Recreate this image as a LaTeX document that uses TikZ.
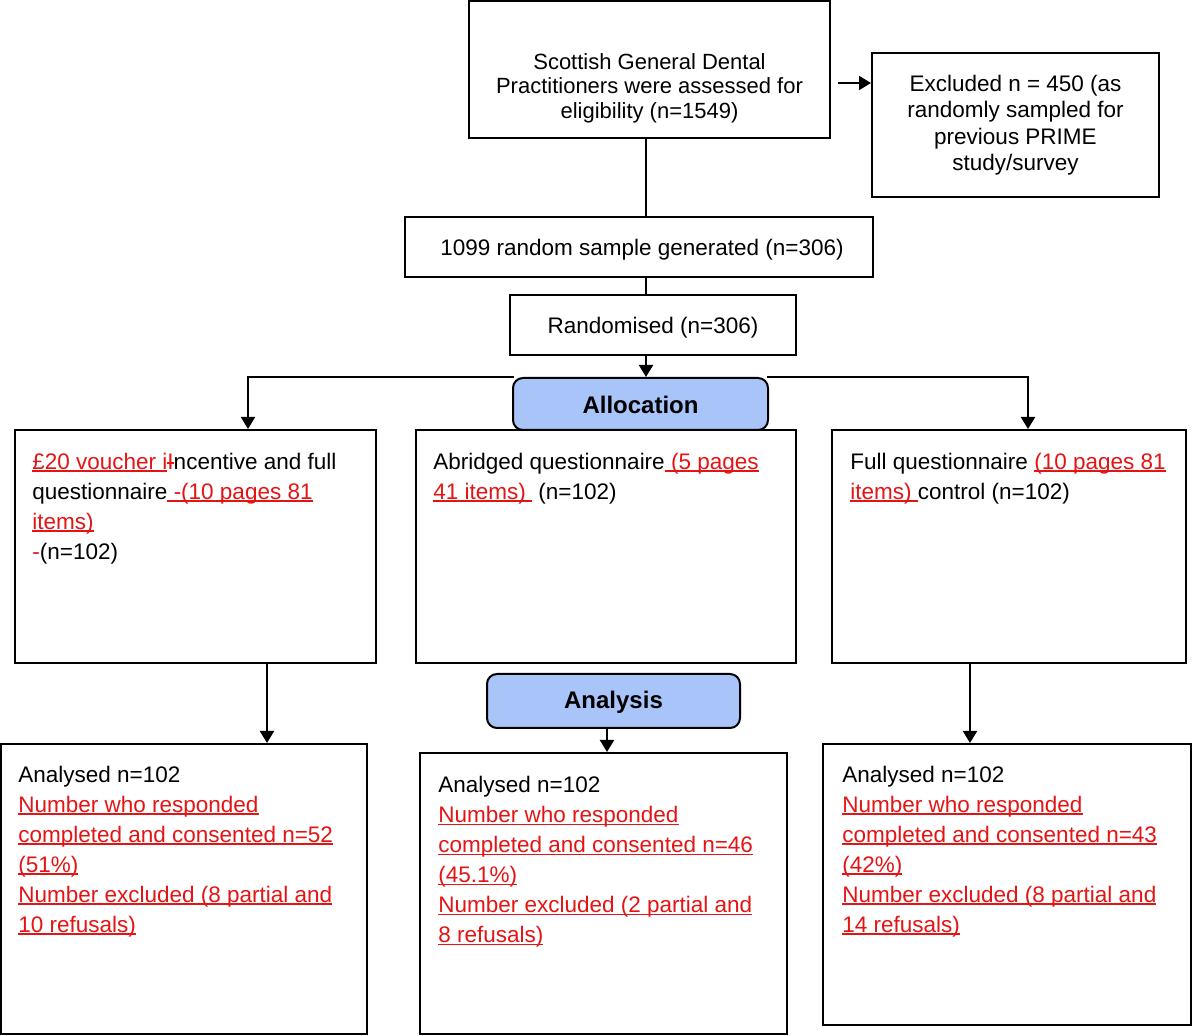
\documentclass[tikz,border=0pt]{standalone}
\usepackage{fontspec}
\setmainfont{Liberation Sans}
\usetikzlibrary{fit,arrows.meta}

\definecolor{editred}{RGB}{228,20,20}
\definecolor{stageblue}{RGB}{169,196,248}
\newcommand{\ins}[1]{{\color{editred}\setbox0\hbox{#1}%
  \rlap{\rule[-1.2pt]{\wd0}{0.65pt}}\box0}}
\newcommand{\del}[1]{{\color{editred}\setbox0\hbox{#1}%
  \rlap{\rule[2.8pt]{\wd0}{0.65pt}}\box0}}

\begin{document}
\begin{tikzpicture}[x=0.5pt,y=-0.5pt,
    box/.style={draw, line width=1pt, inner sep=0pt},
    stage/.style={box, rounded corners=5pt, fill=stageblue},
    ctr/.style={inner sep=0pt, align=center, font=\fontsize{11.25}{14}\selectfont},
    stagetxt/.style={inner sep=0pt, font=\fontsize{12}{14}\selectfont\bfseries},
    txt/.style={inner sep=0pt, align=left, anchor=north west,
      font=\fontsize{11.25}{15}\selectfont},
    link/.style={line width=1pt},
    arr/.style={link, -{Triangle[length=6pt,width=7pt]}}]
    \useasboundingbox (0,0) rectangle (1200,1036);

    % enrolment
    \node[box, fit={(469,1) (830,138)}] (elig) {};
    \node[ctr, font=\fontsize{11}{12.25}\selectfont] (eligtxt) at (649.5,88)
      {Scottish General Dental\\Practitioners were assessed for\\eligibility (n=1549)};
    \node[box, fit={(872,53) (1159,197)}] (excl) {};
    \node[ctr, font=\fontsize{11.25}{13.25}\selectfont] (excltxt) at (1015.5,125)
      {Excluded n = 450 (as\\randomly sampled for\\previous PRIME\\study/survey};
    \coordinate (exclfrom) at (838,83);
    \draw[arr] (exclfrom) -- (excl.west |- exclfrom);

    \node[box, fit={(405,217) (873,277)}] (sample) {};
    \node[ctr] (sampletxt) at (642,250) {1099 random sample generated (n=306)};
    \node[box, fit={(510,295) (796,355)}] (rand) {};
    \node[ctr] (randtxt) at ([yshift=-1.5pt]rand.center) {Randomised (n=306)};
    \node[stage, fit={(513,378) (768,430)}] (alloc) {};
    \node[stagetxt] (alloctxt) at ([yshift=-0.5pt]alloc.center) {Allocation};

    \coordinate (spine) at (646,0);
    \draw[link] (elig.south -| spine) -- (sample.north -| spine);
    \draw[link] (sample.south -| spine) -- (rand.north -| spine);
    \draw[arr] (rand.south -| spine) -- (alloc.north -| spine);

    % allocation
    \node[box, fit={(15,430) (376,663)}] (incent) {};
    \node[box, fit={(416,430) (796,663)}] (abrid) {};
    \node[box, fit={(832,430) (1186,663)}] (full) {};
    \draw[arr] ([xshift=1pt]alloc.north west) -| ([xshift=26.25pt]incent.north);
    \draw[arr] ([xshift=-1pt]alloc.north east) -| ([xshift=9.5pt]full.north);

    \node[txt] (incenttxt) at (32,448)
      {\strut\ins{£20 voucher i}\del{I}ncentive and full\\
       questionnaire\ins{\ -(10 pages 81}\\
       \ins{items)}\\
       {\color{editred}-}(n=102)};
    \node[txt] (abridtxt) at (433,448)
      {\strut Abridged questionnaire\ins{\ (5 pages}\\
       \ins{41 items)\ }\ (n=102)};
    \node[txt] (fulltxt) at (850,448)
      {\strut Full questionnaire \ins{(10 pages 81}\\
       \ins{items)\ }control (n=102)};

    % analysis
    \node[stage, fit={(487,674) (740,728)}] (anal) {};
    \node[stagetxt] (analtxt) at ([yshift=-0.5pt]anal.center) {Analysis};
    \node[box, fit={(1,744) (367,1034)}] (outL) {};
    \node[box, fit={(420,753) (787,1034)}] (outM) {};
    \node[box, fit={(823,744) (1191,1025)}] (outR) {};
    \draw[arr] ([xshift=35.75pt]incent.south) -- ([xshift=35.75pt]incent.south |- outL.north);
    \draw[arr] ([xshift=-19.5pt]full.south) -- ([xshift=-19.5pt]full.south |- outR.north);
    \draw[arr] ([xshift=-3.25pt]anal.south) -- ([xshift=-3.25pt]anal.south |- outM.north);

    \node[txt] (outLtxt) at (18,761)
      {\strut Analysed n=102\\
       \ins{Number who responded}\\
       \ins{completed and consented n=52}\\
       \ins{(51\%)}\\
       \ins{Number excluded (8 partial and}\\
       \ins{10 refusals)}};
    \node[txt] (outMtxt) at (438,771)
      {\strut Analysed n=102\\
       \ins{Number who responded}\\
       \ins{completed and consented n=46}\\
       \ins{(45.1\%)}\\
       \ins{Number excluded (2 partial and}\\
       \ins{8 refusals)}};
    \node[txt] (outRtxt) at (842,761)
      {\strut Analysed n=102\\
       \ins{Number who responded}\\
       \ins{completed and consented n=43}\\
       \ins{(42\%)}\\
       \ins{Number excluded (8 partial and}\\
       \ins{14 refusals)}};
\end{tikzpicture}
\end{document}
